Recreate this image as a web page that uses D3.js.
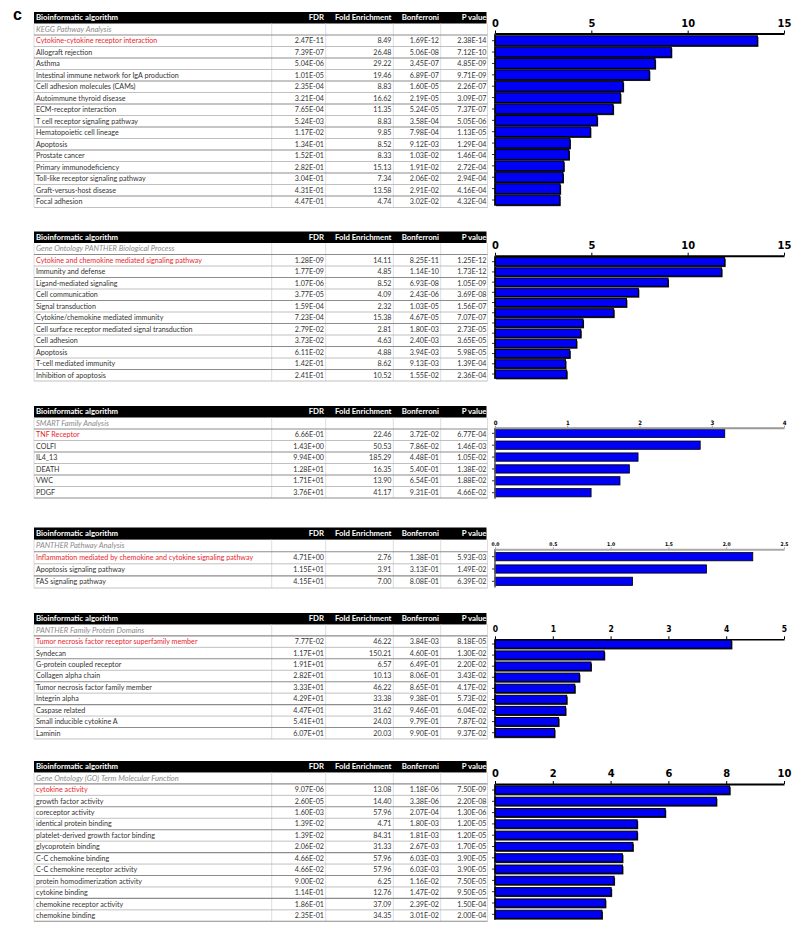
<!DOCTYPE html>
<html>
<head>
<meta charset="utf-8">
<script src="https://cdn.jsdelivr.net/npm/d3@7"></script>
<style>
	body { margin: 0; background: #fff; }
	.cell { font-family: Lato, 'Liberation Sans', sans-serif; font-size: 7.15px; fill: #333; }
	.head { font-family: Lato, 'Liberation Sans', sans-serif; font-size: 7.8px; font-weight: bold; fill: #fff; }
	.cat { font-family: Lato, 'Liberation Sans', sans-serif; font-size: 7.6px; font-style: italic; fill: #8a8a8a; }
	.hit { fill: #e8262d; }
	.axis text { font-family: 'Liberation Sans Narrow', 'DejaVu Sans Condensed', sans-serif; font-weight: bold; fill: #000; }
</style>
</head>
<body>
<svg id="fig" width="800" height="933"></svg>
<script>

// KEGG
var keggTerms = [ 'Cytokine-cytokine receptor interaction', 'Allograft rejection', 'Asthma', 'Intestinal immune network for IgA production', 'Cell adhesion molecules (CAMs)', 'Autoimmune thyroid disease', 'ECM-receptor interaction', 'T cell receptor signaling pathway', 'Hematopoietic cell lineage', 'Apoptosis', 'Prostate cancer', 'Primary immunodeficiency', 'Toll-like receptor signaling pathway', 'Graft-versus-host disease', 'Focal adhesion' ];
var keggFDR = [ '2.47E-11', '7.39E-07', '5.04E-06', '1.01E-05', '2.35E-04', '3.21E-04', '7.65E-04', '5.24E-03', '1.17E-02', '1.34E-01', '1.52E-01', '2.82E-01', '3.04E-01', '4.31E-01', '4.47E-01' ];
var keggFold = [ '8.49', '26.48', '29.22', '19.46', '8.83', '16.62', '11.35', '8.83', '9.85', '8.52', '8.33', '15.13', '7.34', '13.58', '4.74' ];
var keggBonf = [ '1.69E-12', '5.06E-08', '3.45E-07', '6.89E-07', '1.60E-05', '2.19E-05', '5.24E-05', '3.58E-04', '7.98E-04', '9.12E-03', '1.03E-02', '1.91E-02', '2.06E-02', '2.91E-02', '3.02E-02' ];
var keggP = [ '2.38E-14', '7.12E-10', '4.85E-09', '9.71E-09', '2.26E-07', '3.09E-07', '7.37E-07', '5.05E-06', '1.13E-05', '1.29E-04', '1.46E-04', '2.72E-04', '2.94E-04', '4.16E-04', '4.32E-04' ];
var keggBars = [ 13.62, 9.15, 8.31, 8.01, 6.65, 6.51, 6.13, 5.30, 4.95, 3.89, 3.84, 3.57, 3.53, 3.38, 3.36 ];
var keggTicks = [ 0, 5, 10, 15 ];

// GO PANTHER biological process
var bpTerms = [ 'Cytokine and chemokine mediated signaling pathway', 'Immunity and defense', 'Ligand-mediated signaling', 'Cell communication', 'Signal transduction', 'Cytokine/chemokine mediated immunity', 'Cell surface receptor mediated signal transduction', 'Cell adhesion', 'Apoptosis', 'T-cell mediated immunity', 'Inhibition of apoptosis' ];
var bpFDR = [ '1.28E-09', '1.77E-09', '1.07E-06', '3.77E-05', '1.59E-04', '7.23E-04', '2.79E-02', '3.73E-02', '6.11E-02', '1.42E-01', '2.41E-01' ];
var bpFold = [ '14.11', '4.85', '8.52', '4.09', '2.32', '15.38', '2.81', '4.63', '4.88', '8.62', '10.52' ];
var bpBonf = [ '8.25E-11', '1.14E-10', '6.93E-08', '2.43E-06', '1.03E-05', '4.67E-05', '1.80E-03', '2.40E-03', '3.94E-03', '9.13E-03', '1.55E-02' ];
var bpP = [ '1.25E-12', '1.73E-12', '1.05E-09', '3.69E-08', '1.56E-07', '7.07E-07', '2.73E-05', '3.65E-05', '5.98E-05', '1.39E-04', '2.36E-04' ];
var bpBars = [ 11.92, 11.76, 8.98, 7.44, 6.82, 6.16, 4.57, 4.45, 4.23, 3.88, 3.66, 3.72 ];
var bpTicks = [ 0, 5, 10, 15 ];

// SMART
var smartTerms = [ 'TNF Receptor', 'COLFI', 'IL4_13', 'DEATH', 'VWC', 'PDGF' ];
var smartFDR = [ '6.66E-01', '1.43E+00', '9.94E+00', '1.28E+01', '1.71E+01', '3.76E+01' ];
var smartFold = [ '22.46', '50.53', '185.29', '16.35', '13.90', '41.17' ];
var smartBonf = [ '3.72E-02', '7.86E-02', '4.48E-01', '5.40E-01', '6.54E-01', '9.31E-01' ];
var smartP = [ '6.77E-04', '1.46E-03', '1.05E-02', '1.38E-02', '1.88E-02', '4.66E-02' ];
var smartBars = [ 3.18, 2.84, 1.98, 1.86, 1.73, 1.33 ];
var smartTicks = [ 0, 1, 2, 3, 4 ];

// PANTHER pathway
var pathTerms = [ 'Inflammation mediated by chemokine and cytokine signaling pathway', 'Apoptosis signaling pathway', 'FAS signaling pathway' ];
var pathFDR = [ '4.71E+00', '1.15E+01', '4.15E+01' ];
var pathFold = [ '2.76', '3.91', '7.00' ];
var pathBonf = [ '1.38E-01', '3.13E-01', '8.08E-01' ];
var pathP = [ '5.93E-03', '1.49E-02', '6.39E-02' ];
var pathBars = [ 2.23, 1.83, 1.19 ];
var pathTicks = [ 0, 0.5, 1, 1.5, 2, 2.5 ];

// PANTHER family protein domains
var famTerms = [ 'Tumor necrosis factor receptor superfamily member', 'Syndecan', 'G-protein coupled receptor', 'Collagen alpha chain', 'Tumor necrosis factor family member', 'Integrin alpha', 'Caspase related', 'Small inducible cytokine A', 'Laminin' ];
var famFDR = [ '7.77E-02', '1.17E+01', '1.91E+01', '2.82E+01', '3.33E+01', '4.29E+01', '4.47E+01', '5.41E+01', '6.07E+01' ];
var famFold = [ '46.22', '150.21', '6.57', '10.13', '46.22', '33.38', '31.62', '24.03', '20.03' ];
var famBonf = [ '3.84E-03', '4.60E-01', '6.49E-01', '8.06E-01', '8.65E-01', '9.38E-01', '9.46E-01', '9.79E-01', '9.90E-01' ];
var famP = [ '8.18E-05', '1.30E-02', '2.20E-02', '3.43E-02', '4.17E-02', '5.73E-02', '6.04E-02', '7.87E-02', '9.37E-02' ];
var famBars = [ 4.09, 1.89, 1.66, 1.46, 1.38, 1.24, 1.22, 1.10, 1.03 ];
var famTicks = [ 0, 1, 2, 3, 4, 5 ];

// GO molecular function
var mfTerms = [ 'cytokine activity', 'growth factor activity', 'coreceptor activity', 'identical protein binding', 'platelet-derived growth factor binding', 'glycoprotein binding', 'C-C chemokine binding', 'C-C chemokine receptor activity', 'protein homodimerization activity', 'cytokine binding', 'chemokine receptor activity', 'chemokine binding' ];
var mfFDR = [ '9.07E-06', '2.60E-05', '1.60E-03', '1.39E-02', '1.39E-02', '2.06E-02', '4.66E-02', '4.66E-02', '9.00E-02', '1.14E-01', '1.86E-01', '2.35E-01' ];
var mfFold = [ '13.08', '14.40', '57.96', '4.71', '84.31', '31.33', '57.96', '57.96', '6.25', '12.76', '37.09', '34.35' ];
var mfBonf = [ '1.18E-06', '3.38E-06', '2.07E-04', '1.80E-03', '1.81E-03', '2.67E-03', '6.03E-03', '6.03E-03', '1.16E-02', '1.47E-02', '2.39E-02', '3.01E-02' ];
var mfP = [ '7.50E-09', '2.20E-08', '1.30E-06', '1.20E-05', '1.20E-05', '1.70E-05', '3.90E-05', '3.90E-05', '7.50E-05', '9.50E-05', '1.50E-04', '2.00E-04' ];
var mfBars = [ 8.12, 7.66, 5.89, 4.92, 4.92, 4.77, 4.41, 4.41, 4.12, 4.02, 3.82, 3.70 ];
var mfTicks = [ 0, 2, 4, 6, 8, 10 ];

var headers = [ 'Bioinformatic algorithm', 'FDR', 'Fold Enrichment', 'Bonferroni', 'P value' ];

var panels = [
	{ title: 'KEGG Pathway Analysis', terms: keggTerms, fdr: keggFDR, fold: keggFold, bonf: keggBonf, p: keggP, bars: keggBars, ticks: keggTicks },
	{ title: 'Gene Ontology PANTHER Biological Process', terms: bpTerms, fdr: bpFDR, fold: bpFold, bonf: bpBonf, p: bpP, bars: bpBars, ticks: bpTicks },
	{ title: 'SMART Family Analysis', terms: smartTerms, fdr: smartFDR, fold: smartFold, bonf: smartBonf, p: smartP, bars: smartBars, ticks: smartTicks },
	{ title: 'PANTHER Pathway Analysis', terms: pathTerms, fdr: pathFDR, fold: pathFold, bonf: pathBonf, p: pathP, bars: pathBars, ticks: pathTicks },
	{ title: 'PANTHER Family Protein Domains', terms: famTerms, fdr: famFDR, fold: famFold, bonf: famBonf, p: famP, bars: famBars, ticks: famTicks },
	{ title: 'Gene Ontology (GO) Term Molecular Function', terms: mfTerms, fdr: mfFDR, fold: mfFold, bonf: mfBonf, p: mfP, bars: mfBars, ticks: mfTicks }
];

// where each block sits on the page
var layout = [
	{ top: 12, rowH: 11.5, axisY: 33.5, bar0: 40.7, barN: 200, font: 11, pad: 0.14, shadow: true, fmt: 'd', axisColor: '#000', axisW: 2 },
	{ top: 231.5, rowH: 11.5, axisY: 255.7, bar0: 261.7, barN: 374, font: 11, pad: 0.2, shadow: true, fmt: 'd', axisColor: '#000', axisW: 2 },
	{ top: 406, rowH: 11.5, axisY: 427.7, bar0: 433.3, barN: 492.7, font: 6, pad: 0.3, shadow: false, fmt: 'd', axisColor: '#999', axisW: 2 },
	{ top: 527.5, rowH: 12.1, axisY: 549.3, bar0: 556.7, barN: 581.3, font: 5, pad: 0.33, shadow: false, fmt: '.1f', axisColor: '#aaa', axisW: 2 },
	{ top: 613, rowH: 11.45, axisY: 639.3, bar0: 644, barN: 732.7, font: 8.5, pad: 0.25, shadow: true, fmt: 'd', axisColor: '#000', axisW: 1.5 },
	{ top: 761, rowH: 11.45, axisY: 784, bar0: 790, barN: 914.3, font: 11, pad: 0.28, shadow: true, fmt: 'd', axisColor: '#000', axisW: 2 }
];

var svg = d3.select( '#fig' );

var colLines = [ 34, 271.7, 325.7, 393.3, 440.7, 487.5 ];
var colRight = [ null, 324, 391.5, 439, 486.5 ];

svg.append( 'text' )
	.attr( 'x', 13 )
	.attr( 'y', 20 )
	.style( 'font-family', 'Liberation Sans, Arial, sans-serif' )
	.style( 'font-weight', 'bold' )
	.style( 'font-size', '16px' )
	.text( 'c' );

panels.forEach( function ( panel, k ) {

	var L = layout[k];
	var g = svg.append( 'g' ).attr( 'class', 'tbl' );
	var n = panel.terms.length;
	var bottom = L.top + L.rowH * ( n + 2 );

	// header band
	g.append( 'rect' )
		.attr( 'x', 34 ).attr( 'y', L.top )
		.attr( 'width', 452.5 ).attr( 'height', L.rowH )
		.attr( 'fill', '#000' );

	headers.forEach( function ( h, i ) {
		g.append( 'text' )
			.attr( 'class', 'head' )
			.attr( 'x', i === 0 ? 36 : colRight[i] )
			.attr( 'y', L.top + L.rowH / 2 )
			.attr( 'dy', '0.35em' )
			.attr( 'text-anchor', i === 0 ? 'start' : 'end' )
			.text( h );
	} );

	// grid
	colLines.forEach( function ( x ) {
		g.append( 'line' )
			.attr( 'x1', x ).attr( 'x2', x )
			.attr( 'y1', L.top + L.rowH ).attr( 'y2', bottom )
			.attr( 'stroke', '#d4d4d4' ).attr( 'stroke-width', 0.8 );
	} );

	d3.range( 2, n + 3 ).forEach( function ( r ) {
		g.append( 'line' )
			.attr( 'x1', 34 ).attr( 'x2', 487.5 )
			.attr( 'y1', L.top + L.rowH * r ).attr( 'y2', L.top + L.rowH * r )
			.attr( 'stroke', r % 2 ? '#b0b0b0' : '#8c8c8c' )
			.attr( 'stroke-width', r % 2 ? 0.8 : 1.1 );
	} );

	g.append( 'text' )
		.attr( 'class', 'cat' )
		.attr( 'x', 36 )
		.attr( 'y', L.top + L.rowH * 1.5 )
		.attr( 'dy', '0.35em' )
		.text( panel.title );

	var cols = [ panel.terms, panel.fdr, panel.fold, panel.bonf, panel.p ];

	cols.forEach( function ( col, c ) {
		g.selectAll( 'text.c' + c )
			.data( col )
			.enter()
			.append( 'text' )
			.attr( 'class', function ( d, i ) { return 'cell c' + c + ( i === 0 && c === 0 ? ' hit' : '' ); } )
			.attr( 'x', c === 0 ? 36 : colRight[c] )
			.attr( 'y', function ( d, i ) { return L.top + L.rowH * ( 2.5 + i ); } )
			.attr( 'dy', '0.35em' )
			.attr( 'text-anchor', c === 0 ? 'start' : 'end' )
			.text( function ( d ) { return d; } );
	} );

	// bar chart
	var max = panel.ticks[panel.ticks.length - 1];
	var x = d3.scaleLinear().domain( [ 0, max ] ).range( [ 495, 784 ] );
	var m = panel.bars.length;
	var step = ( L.barN - L.bar0 ) / ( m - 1 );
	var y = d3.scaleBand()
		.domain( d3.range( m ) )
		.range( [ L.bar0 - step / 2, L.barN + step / 2 ] )
		.paddingInner( L.pad )
		.paddingOuter( L.pad / 2 );

	var chart = svg.append( 'g' );

	if ( L.shadow ) {
		chart.selectAll( 'rect.shadow' )
			.data( panel.bars )
			.enter()
			.append( 'rect' )
			.attr( 'class', 'shadow' )
			.attr( 'x', x( 0 ) + 1 )
			.attr( 'y', function ( d, i ) { return y( i ) + 1.3; } )
			.attr( 'width', function ( d ) { return x( d ) - x( 0 ); } )
			.attr( 'height', y.bandwidth() )
			.attr( 'fill', '#1a1a1a' );
	}

	chart.selectAll( 'rect.bar' )
		.data( panel.bars )
		.enter()
		.append( 'rect' )
		.attr( 'class', 'bar' )
		.attr( 'x', x( 0 ) )
		.attr( 'y', function ( d, i ) { return y( i ); } )
		.attr( 'width', function ( d ) { return x( d ) - x( 0 ); } )
		.attr( 'height', y.bandwidth() )
		.attr( 'fill', '#0000f5' )
		.attr( 'stroke', '#000' )
		.attr( 'stroke-width', L.shadow ? 1 : 0.8 );

	var yAxis = d3.axisLeft( y ).tickSize( 3 ).tickFormat( '' );
	var yg = chart.append( 'g' )
		.attr( 'transform', 'translate(' + x( 0 ) + ',0)' )
		.call( yAxis );
	yg.select( '.domain' ).remove();
	yg.selectAll( '.tick line' ).attr( 'stroke', '#333' );

	chart.append( 'line' )
		.attr( 'x1', x( 0 ) ).attr( 'x2', x( 0 ) )
		.attr( 'y1', L.axisY ).attr( 'y2', L.barN + step / 2 )
		.attr( 'stroke', L.shadow ? '#000' : '#555' )
		.attr( 'stroke-width', 1.5 );

	var xAxis = d3.axisTop( x )
		.tickValues( panel.ticks )
		.tickFormat( d3.format( L.fmt ) )
		.tickSizeInner( L.font > 7 ? 3 : 2 )
		.tickSizeOuter( 0 )
		.tickPadding( L.font > 7 ? 4 : 1 );

	var xg = chart.append( 'g' )
		.attr( 'class', 'axis' )
		.attr( 'transform', 'translate(0,' + L.axisY + ')' )
		.call( xAxis );
	xg.select( '.domain' ).attr( 'stroke', L.axisColor ).attr( 'stroke-width', L.axisW );
	xg.selectAll( '.tick line' ).attr( 'stroke', L.axisColor );
	xg.selectAll( 'text' ).style( 'font-size', L.font + 'px' );

} );

</script>
</body>
</html>
